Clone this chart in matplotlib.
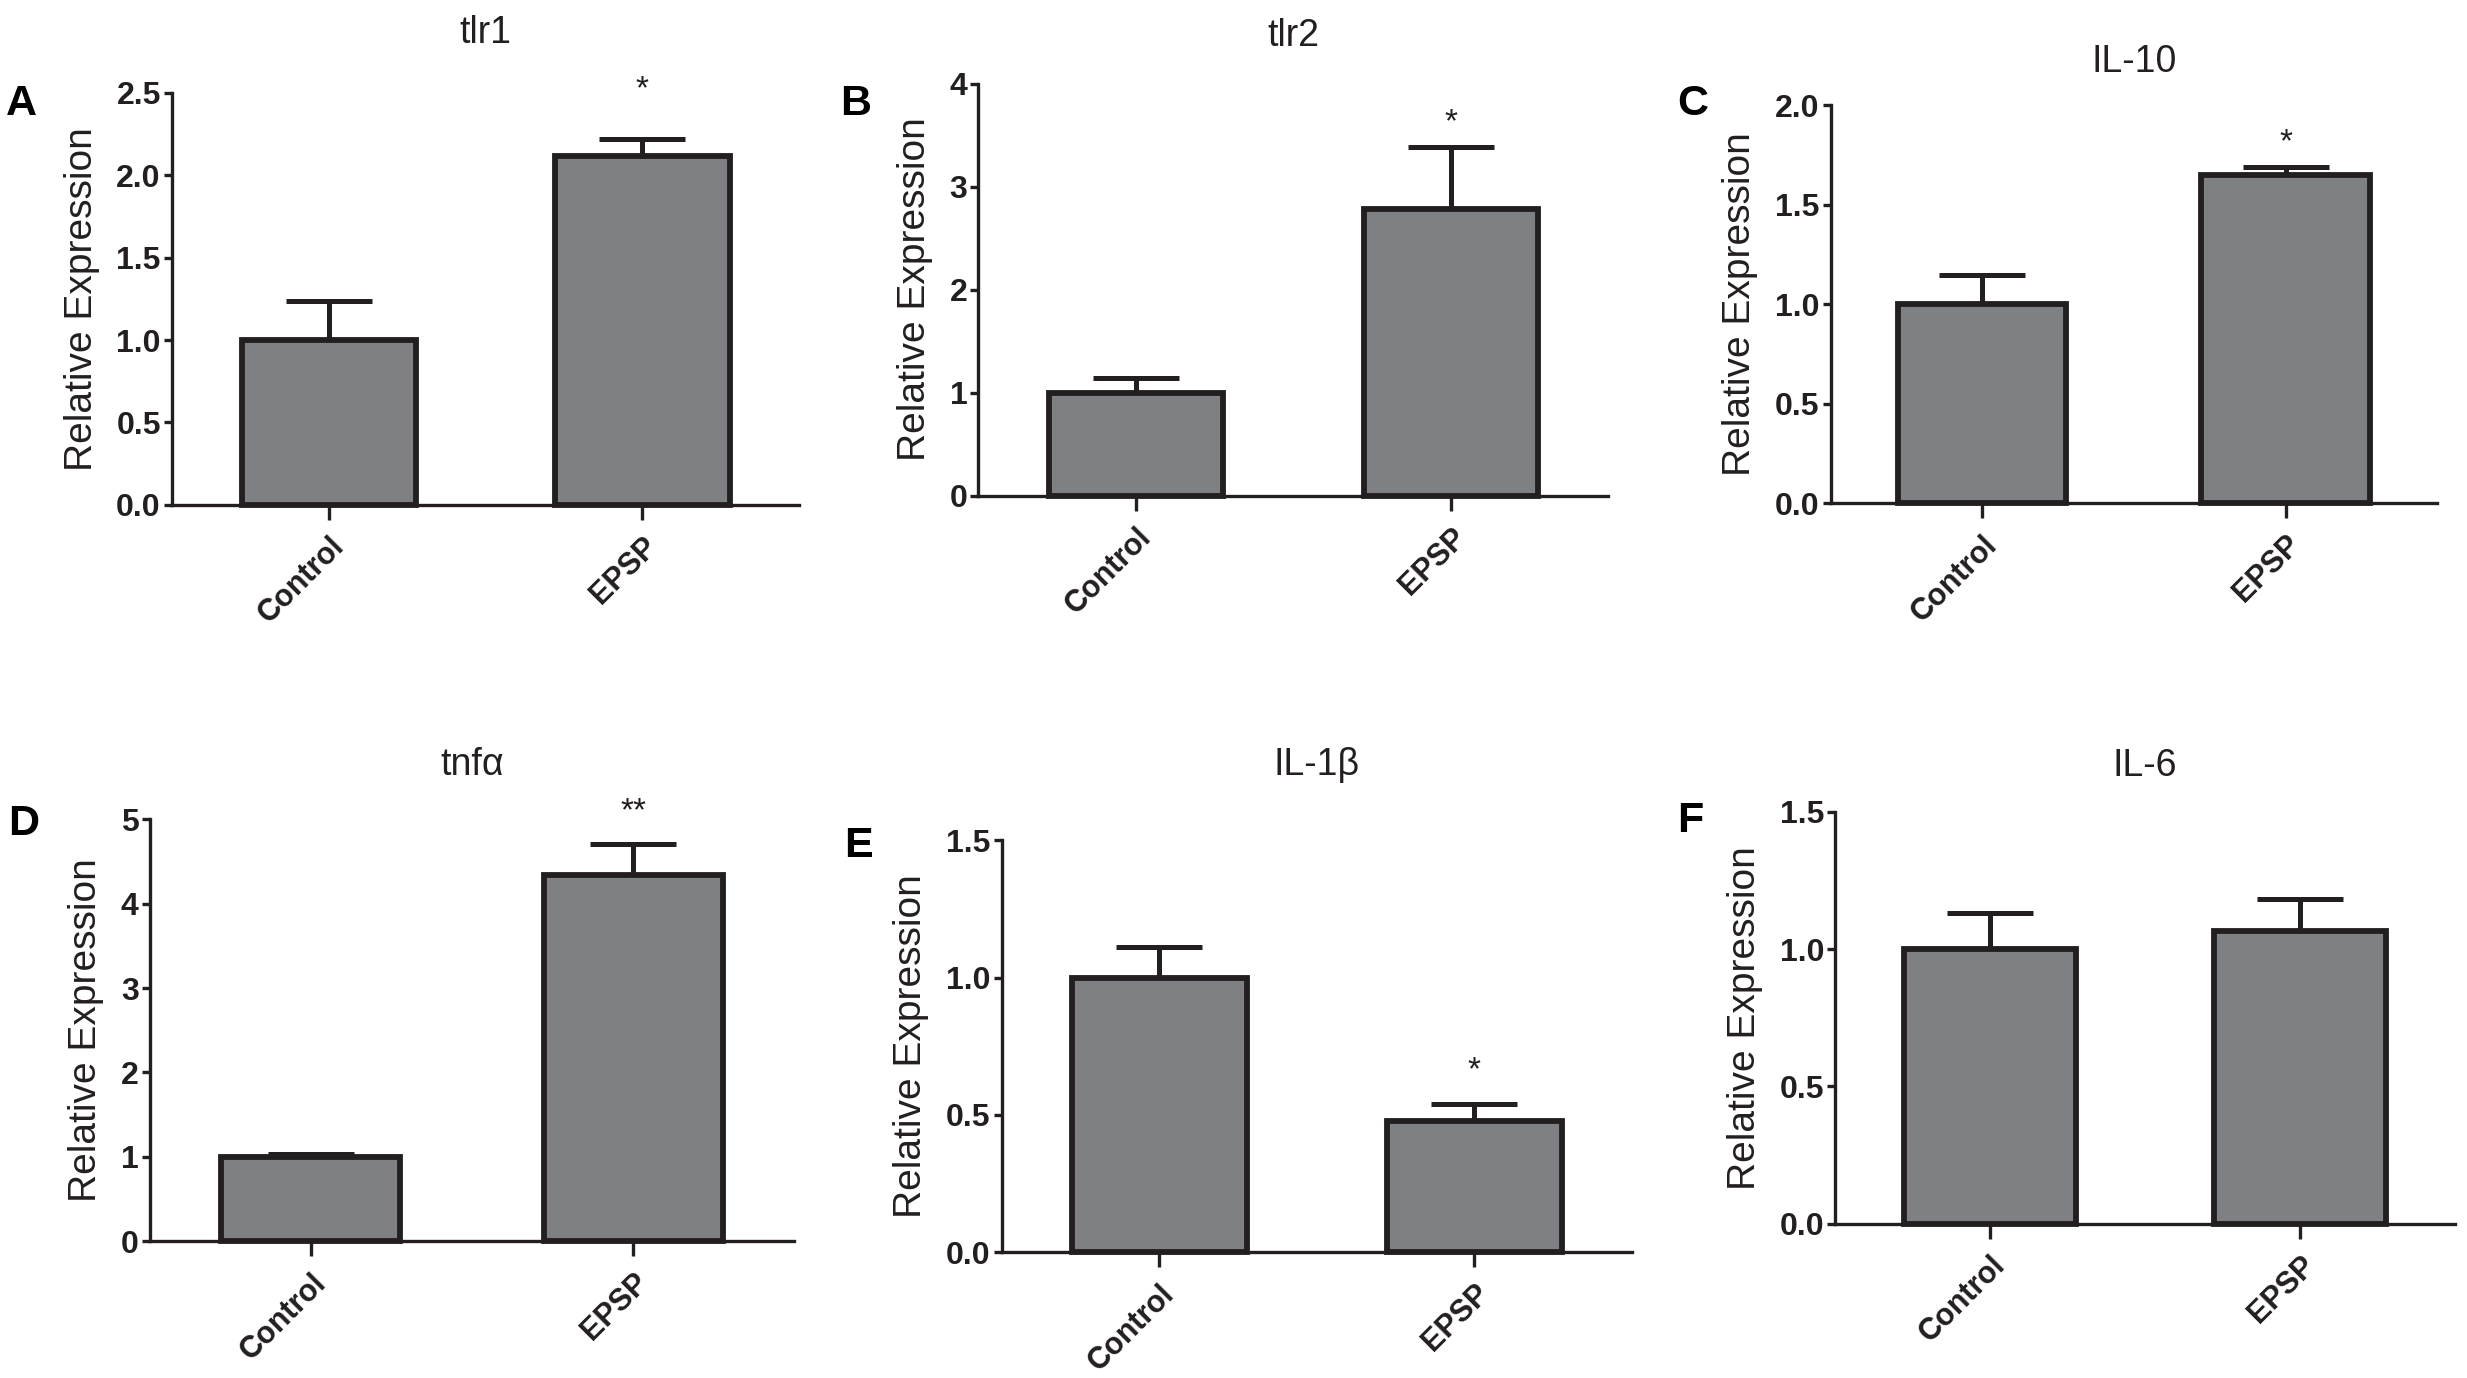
import matplotlib
matplotlib.use("Agg")
import matplotlib.pyplot as plt
import numpy as np

plt.rcParams['font.family'] = ['Liberation Sans', 'DejaVu Sans']

genes = ["tlr1", "tlr2", "IL-10", "tnfα", "IL-1β", "IL-6"]
panel_letters = ["A", "B", "C", "D", "E", "F"]
groups = ["Control", "EPSP"]
control_means = [1.0, 1.0, 1.0, 1.0, 1.0, 1.0]
epsp_means = [2.12, 2.78, 1.65, 4.34, 0.476, 1.067]
control_err = [0.24, 0.14, 0.15, 0.03, 0.11, 0.13]
epsp_err = [0.10, 0.60, 0.04, 0.37, 0.065, 0.115]
epsp_sig = ["*", "*", "*", "**", "*", ""]
sig_y = [2.58, 3.72, 1.865, 5.22, 0.70, None]
y_max = [2.5, 4, 2.0, 5, 1.5, 1.5]
y_step = [0.5, 1, 0.5, 1, 0.5, 0.5]
y_decimals = [1, 0, 1, 0, 1, 1]

W, H = 2467, 1378
fig = plt.figure(figsize=(W / 100, H / 100), dpi=100)

axes_pos = [
    [0.0697, 0.6336, 0.2543, 0.299],
    [0.3966, 0.6404, 0.2554, 0.299],
    [0.7420, 0.6347, 0.2460, 0.2888],
    [0.0607, 0.0993, 0.2613, 0.306],
    [0.4060, 0.0913, 0.2555, 0.299],
    [0.7440, 0.1119, 0.2510, 0.299],
]
title_pads = [39, 30, 27, 35, 50, 29]
letter_pos = [(0.0088, 0.9247), (0.347, 0.9247), (0.686, 0.9247),
              (0.0097, 0.4018), (0.348, 0.386), (0.685, 0.404)]

bar_face = "#7f8084"
edge = "#231f20"

for i, g in enumerate(genes):
    ax = fig.add_axes(axes_pos[i])
    x = np.arange(len(groups))
    means = [control_means[i], epsp_means[i]]
    errs = [control_err[i], epsp_err[i]]
    ax.errorbar(x, means, yerr=[[0, 0], errs], fmt='none', ecolor=edge,
                elinewidth=3.6, capsize=31, capthick=3.6, zorder=2,
                clip_on=False)
    ax.bar(x, means, width=0.555, color=bar_face, edgecolor=edge,
           linewidth=4.2, zorder=3, clip_on=False)
    ax.set_xlim(-0.5, 1.5)
    ax.set_ylim(0, y_max[i])
    ticks = np.arange(0, y_max[i] + 1e-9, y_step[i])
    ax.set_yticks(ticks)
    ax.set_yticklabels([f"{t:.{y_decimals[i]}f}" for t in ticks],
                       fontsize=23, fontweight='bold', color=edge)
    ax.set_xticks(x)
    ax.set_xticklabels(groups, rotation=45, ha='right', rotation_mode='anchor',
                       fontsize=22, fontweight='bold', color=edge)
    for s in ['top', 'right']:
        ax.spines[s].set_visible(False)
    for s in ['left', 'bottom']:
        ax.spines[s].set_linewidth(2.4)
        ax.spines[s].set_color(edge)
    ax.tick_params(axis='y', direction='out', length=6, width=2.4, color=edge, pad=2)
    ax.tick_params(axis='x', direction='out', length=11, width=2.4, color=edge, pad=8)
    ax.set_ylabel("Relative Expression", fontsize=28, color=edge, labelpad=12)
    ax.set_title(g, fontsize=27, color=edge, pad=title_pads[i] - 3)
    if epsp_sig[i]:
        ax.annotate(epsp_sig[i], xy=(1, sig_y[i]), xytext=(0, -7.5),
                    textcoords='offset points', ha='center', va='center',
                    fontsize=24, color=edge, annotation_clip=False)
    fig.text(letter_pos[i][0], letter_pos[i][1], panel_letters[i],
             ha='center', va='center', fontsize=31, fontweight='bold', color='black')

fig.savefig("out.png", dpi=100)
